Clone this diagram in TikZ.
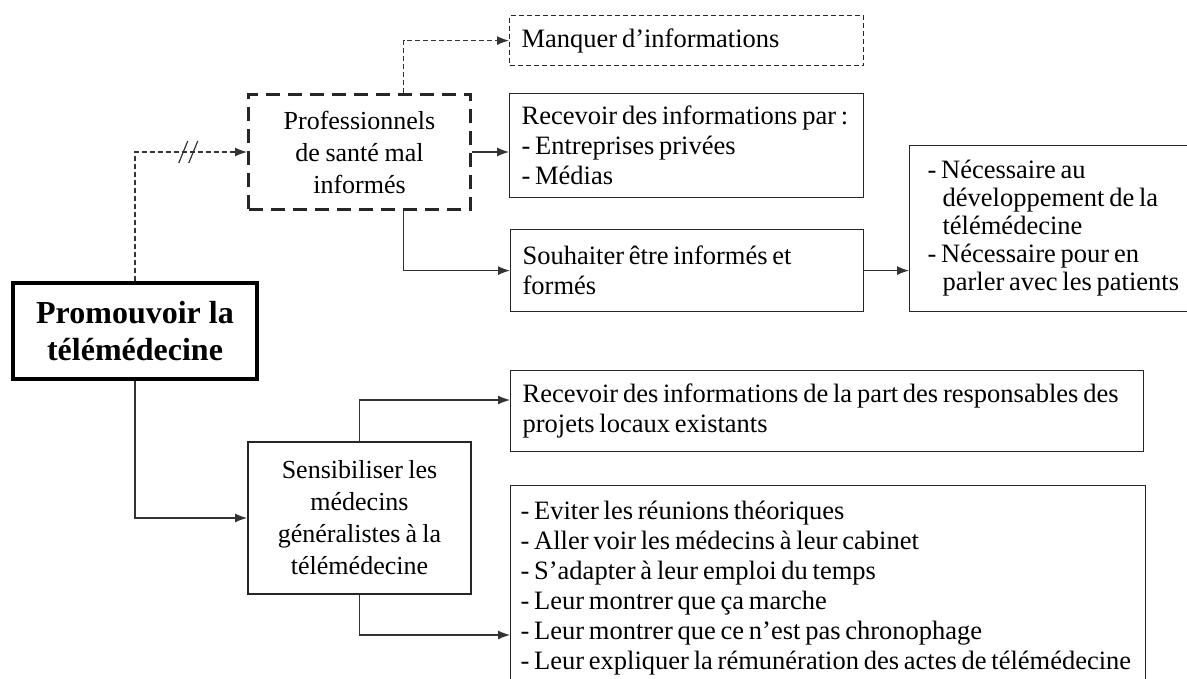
\documentclass[tikz,border=0pt]{standalone}
\usepackage{fontspec}
\setmainfont{Liberation Serif}
\usetikzlibrary{positioning,arrows.meta}
\hyphenpenalty=10000
\newcommand\tightwords{\spaceskip=.18em plus .05em\relax}

\begin{document}
\begin{tikzpicture}[
    x=1pt, y=-1pt,
    % define styles
    box/.style={
        draw=black!85,
        line width=1.2pt,
        rectangle,
        anchor=north west,
        inner xsep=12pt,
        inner ysep=0pt,
        align=flush left,
        font=\fontsize{26.5}{30}\selectfont,
        execute at begin node=\tightwords
    },
    hintbox/.style={
        box,
        dash pattern=on 5pt off 3pt
    },
    doubtbox/.style={
        box,
        line width=3pt,
        dash pattern=on 14pt off 8pt,
        align=center,
        font=\fontsize{26}{32}\selectfont,
        execute at begin node={}
    },
    actionbox/.style={
        box,
        line width=2pt,
        align=center,
        font=\fontsize{26}{32}\selectfont,
        execute at begin node={}
    },
    goalbox/.style={
        draw=black,
        line width=4pt,
        inner sep=0pt,
        align=center,
        font=\fontsize{32}{37}\selectfont\bfseries
    },
    link/.style={
        draw=black!80,
        line width=1.2pt,
        ->
    },
    hintlink/.style={
        link,
        dash pattern=on 5pt off 3pt
    },
    >={Latex[length=12pt,width=9pt]}
]
\useasboundingbox (0,0) rectangle (1187,679);

% central goal
\node[goalbox, minimum width=244pt, minimum height=96pt] (goal)
    at (135,331) {Promouvoir la\\télémédecine};

% upper branch
\node[doubtbox, minimum width=222pt, minimum height=115pt, text width=198pt]
    (prof) at (247,93) {Professionnels\\de santé mal\\informés};
\node[hintbox, minimum width=354pt, minimum height=50pt, text width=330pt]
    (lack) at (509,15) {Manquer d’informations};
\node[box, minimum width=354pt, minimum height=104pt, text width=330pt]
    (recv) at (509,93) {Recevoir des informations par~:\\- Entreprises privées\\- Médias};
\node[box, minimum width=353pt, minimum height=82pt, text width=329pt]
    (wish) at (510,229) {Souhaiter être informés et\\formés};
\node[box, minimum width=285pt, minimum height=166pt, text width=262pt,
      inner xsep=18pt, font=\fontsize{26.5}{28}\selectfont]
    (need) at (909,145) {- Nécessaire au\\\hspace*{15pt}développement de la\\\hspace*{15pt}télémédecine\\- Nécessaire pour en\\\hspace*{15pt}parler avec les patients};

% lower branch
\node[actionbox, minimum width=223pt, minimum height=152pt, text width=199pt]
    (aware) at (247,441) {Sensibiliser les\\médecins\\généralistes à la\\télémédecine};
\node[box, minimum width=633pt, minimum height=81pt, text width=609pt]
    (local) at (510,370) {Recevoir des informations de la part des responsables des\\projets locaux existants};
\node[box, minimum width=635pt, text width=615pt, inner xsep=10pt, inner ysep=15pt]
    (tips) at (510,485) {- Eviter les réunions théoriques\\- Aller voir les médecins à leur cabinet\\- S’adapter à leur emploi du temps\\- Leur montrer que ça marche\\- Leur montrer que ce n’est pas chronophage\\- Leur expliquer la rémunération des actes de télémédecine};

% entry points on the boxes
\coordinate (localin) at ([yshift=-30pt]local.north west);
\coordinate (tipsin) at ([yshift=-150pt]tips.north west);

% dashed links from the goal to the upper branch
\draw[hintlink] (goal.north) |- coordinate[pos=0.74] (brk) (prof.west);
\draw[draw=black!80, line width=1.2pt] (brk) ++(-10,11) -- ++(9,-22)
                                        (brk) ++(0,11) -- ++(9,-22);
\draw[hintlink] ([xshift=44pt]prof.north) |- (lack.west);

% solid links of the upper branch
\draw[link] (prof.east) -- (prof.east -| recv.west);
\draw[link] ([xshift=44pt]prof.south) |- (wish.west);
\draw[link] (wish.east) -- (wish.east -| need.west);

% links of the lower branch
\draw[link] (goal.south) |- (aware.west);
\draw[link] (aware.north) |- (localin);
\draw[link] (aware.south) |- (tipsin);
\end{tikzpicture}
\end{document}
